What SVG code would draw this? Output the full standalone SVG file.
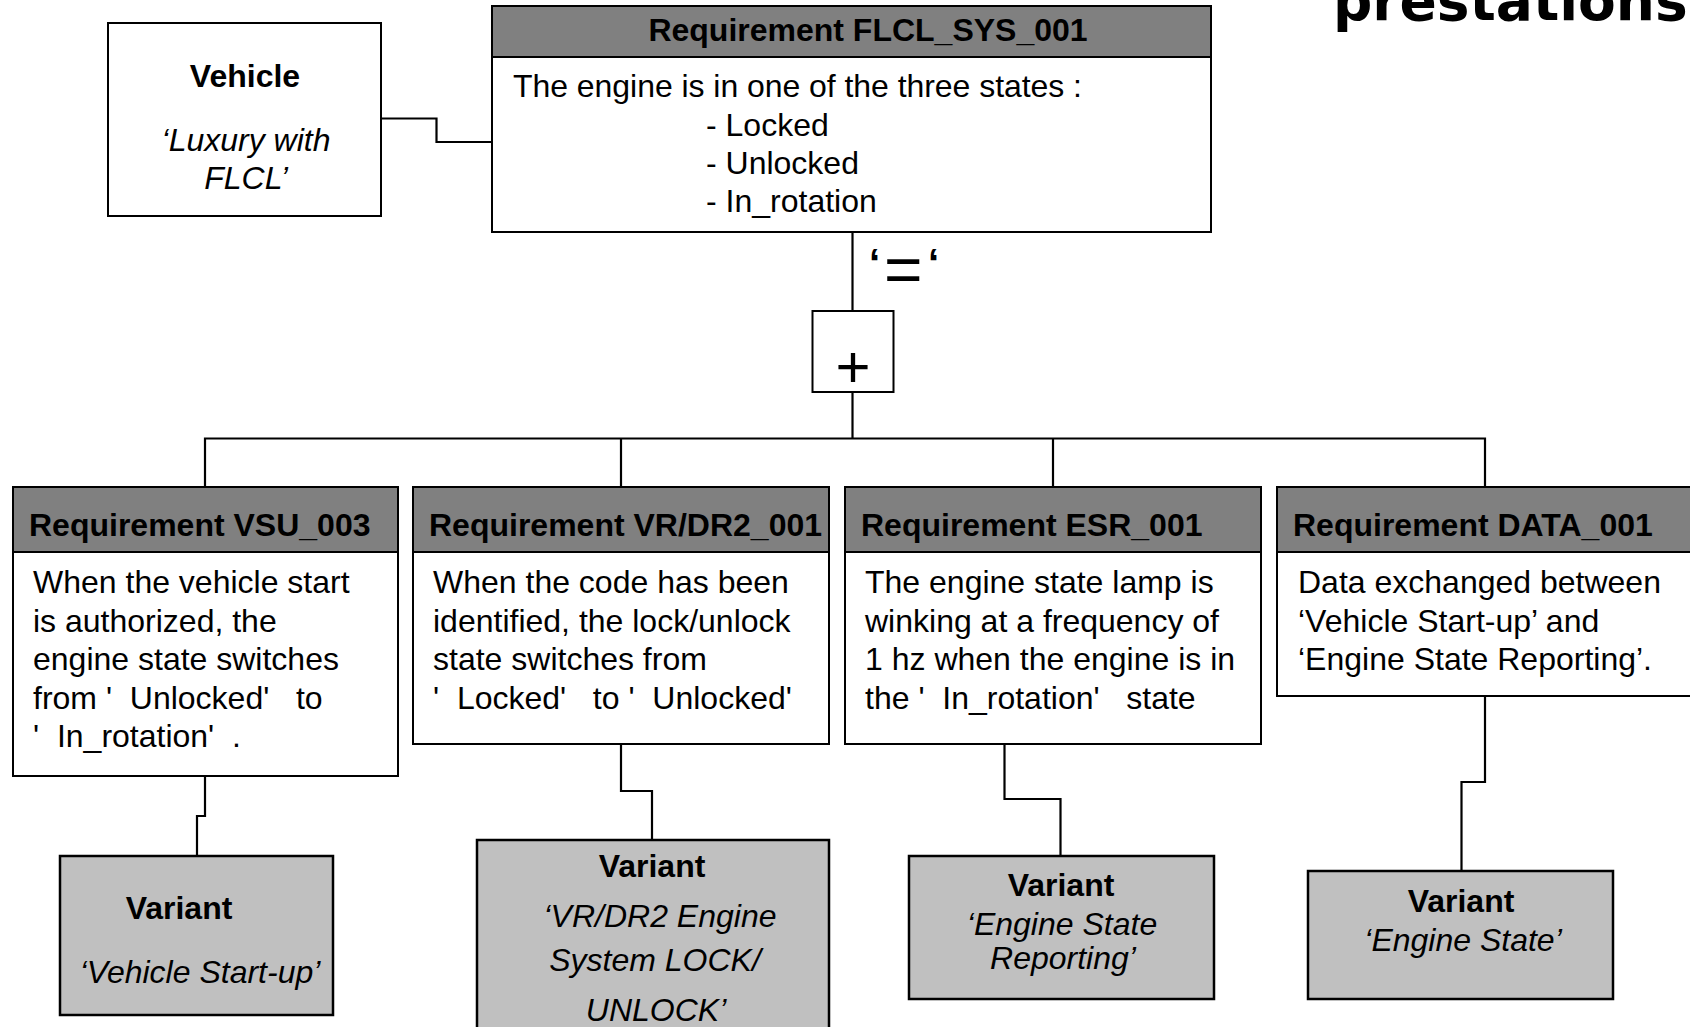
<svg xmlns="http://www.w3.org/2000/svg" width="1690" height="1027" viewBox="0 0 1690 1027">
<style>
text{font-family:"Liberation Sans",Arial,sans-serif;font-size:32px;fill:#000;white-space:pre}
.b{font-weight:bold}
.i{font-style:italic}
.c{text-anchor:middle}
.box{fill:#fff;stroke:#000;stroke-width:2}
.hdr{fill:#808080;stroke:#000;stroke-width:2}
.var{fill:#c0c0c0;stroke:#000;stroke-width:2.5}
.ln{fill:none;stroke:#000;stroke-width:2.2}
.title{font-family:"DejaVu Sans",Verdana,sans-serif;font-weight:bold;font-size:55px}
</style>
<rect width="1690" height="1027" fill="#fff"/>
<text class="title" x="1333" y="20">prestations</text>

<g id="connectors">
<polyline class="ln" points="381,118.5 436.5,118.5 436.5,142 492,142"/>
<line class="ln" x1="852.5" y1="232" x2="852.5" y2="311"/>
<line class="ln" x1="852.5" y1="392" x2="852.5" y2="438.5"/>
<polyline class="ln" points="205,487 205,438.5 1485,438.5 1485,487"/>
<line class="ln" x1="621" y1="438.5" x2="621" y2="487"/>
<line class="ln" x1="1053" y1="438.5" x2="1053" y2="487"/>
<polyline class="ln" points="205,776 205,816 197,816 197,856"/>
<polyline class="ln" points="621,744 621,791 652,791 652,840"/>
<polyline class="ln" points="1004.5,744 1004.5,799 1060.5,799 1060.5,856"/>
<polyline class="ln" points="1485,696 1485,782 1461.5,782 1461.5,871"/>
<g id="equal-label">
<text x="869" y="277" style="font-size:40px;font-weight:bold">‘</text>
<text x="884" y="292" style="font-size:66px">=</text>
<text x="928" y="277" style="font-size:40px;font-weight:bold">‘</text>
</g>
</g>

<g id="vehicle">
<rect class="box" x="108" y="23" width="273" height="193"/>
<text class="b c" x="245" y="87">Vehicle</text>
<text class="i c" x="246" y="151">‘Luxury with</text>
<text class="i c" x="246" y="189">FLCL’</text>
</g>

<g id="req-flcl-sys-001">
<rect class="box" x="492" y="6" width="719" height="226"/>
<rect class="hdr" x="492" y="6" width="719" height="51"/>
<text class="b c" x="868" y="41">Requirement FLCL_SYS_001</text>
<text x="513" y="97" textLength="569" lengthAdjust="spacing">The engine is in one of the three states :</text>
<text x="706" y="136">- Locked</text>
<text x="706" y="174">- Unlocked</text>
<text x="706" y="212">- In_rotation</text>
</g>

<g id="operator">
<rect class="box" x="812.5" y="311" width="81" height="81"/>
<text class="c" x="853" y="387" style="font-size:60px">+</text>
</g>

<g id="req-vsu-003">
<rect class="box" x="13" y="487" width="385" height="289"/>
<rect class="hdr" x="13" y="487" width="385" height="65"/>
<text class="b" x="29" y="536">Requirement VSU_003</text>
<text x="33" y="593">When the vehicle start</text>
<text x="33" y="632">is authorized, the</text>
<text x="33" y="670">engine state switches</text>
<text x="33" y="709">from '  Unlocked'   to</text>
<text x="33" y="747">'  In_rotation'  .</text>
</g>

<g id="req-vrdr2-001">
<rect class="box" x="413" y="487" width="416" height="257"/>
<rect class="hdr" x="413" y="487" width="416" height="65"/>
<text class="b" x="429" y="536">Requirement VR/DR2_001</text>
<text x="433" y="593">When the code has been</text>
<text x="433" y="632">identified, the lock/unlock</text>
<text x="433" y="670">state switches from</text>
<text x="433" y="709">'  Locked'   to '  Unlocked'</text>
</g>

<g id="req-esr-001">
<rect class="box" x="845" y="487" width="416" height="257"/>
<rect class="hdr" x="845" y="487" width="416" height="65"/>
<text class="b" x="861" y="536">Requirement ESR_001</text>
<text x="865" y="593">The engine state lamp is</text>
<text x="865" y="632">winking at a frequency of</text>
<text x="865" y="670">1 hz when the engine is in</text>
<text x="865" y="709">the '  In_rotation'   state</text>
</g>

<g id="req-data-001">
<rect class="box" x="1277" y="487" width="420" height="209"/>
<rect class="hdr" x="1277" y="487" width="420" height="65"/>
<text class="b" x="1293" y="536">Requirement DATA_001</text>
<text x="1298" y="593">Data exchanged between</text>
<text x="1298" y="632">‘Vehicle Start-up’ and</text>
<text x="1298" y="670">‘Engine State Reporting’.</text>
</g>

<g id="variant-vehicle-startup">
<rect class="var" x="60" y="856" width="273" height="159"/>
<text class="b c" x="179" y="919">Variant</text>
<text class="i c" x="200" y="983">‘Vehicle Start-up’</text>
</g>

<g id="variant-vrdr2">
<rect class="var" x="477" y="840" width="352" height="200"/>
<text class="b c" x="652" y="877">Variant</text>
<text class="i c" x="660" y="927">‘VR/DR2 Engine</text>
<text class="i c" x="655" y="971">System LOCK/</text>
<text class="i c" x="656" y="1021">UNLOCK’</text>
</g>

<g id="variant-esr">
<rect class="var" x="909" y="856" width="305" height="143"/>
<text class="b c" x="1061" y="896">Variant</text>
<text class="i c" x="1062" y="935">‘Engine State</text>
<text class="i c" x="1063" y="969">Reporting’</text>
</g>

<g id="variant-engine-state">
<rect class="var" x="1308" y="871" width="305" height="128"/>
<text class="b c" x="1461" y="912">Variant</text>
<text class="i c" x="1463" y="951">‘Engine State’</text>
</g>
</svg>
